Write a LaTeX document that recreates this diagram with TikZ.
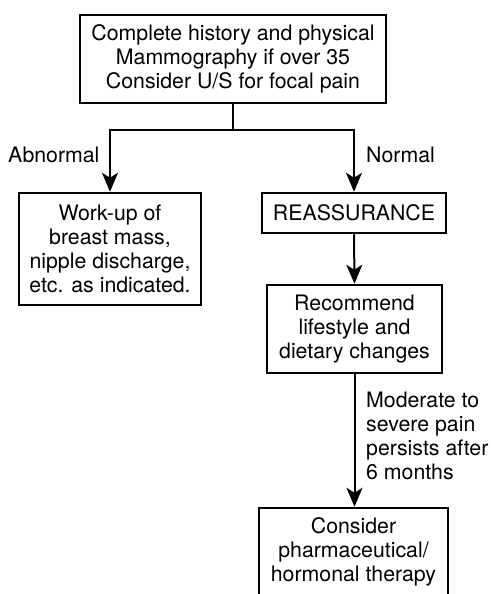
\documentclass[tikz,border=0pt]{standalone}
\usepackage{fontspec}
\setmainfont{TeX Gyre Heros}
\usetikzlibrary{arrows.meta}
\begin{document}
\begin{tikzpicture}[x=1pt,y=-1pt,
  box/.style={draw, line width=2.5pt, align=center, inner sep=0pt, font=\fontsize{21.3}{24}\selectfont},
  lbl/.style={align=left, inner sep=0pt, font=\fontsize{21.3}{24}\selectfont},
  conn/.style={line width=2pt, -{Stealth[length=19pt,width=16pt,inset=5pt]}}]
\useasboundingbox (0,0) rectangle (491,594);
\node[box, minimum width=306pt, minimum height=88pt] (top) at (233,59) {Complete history and physical\\Mammography if over 35\\Consider U/S for focal pain};
\node[box, minimum width=182pt, minimum height=112pt] (work) at (110,249) {Work-up of\\breast mass,\\nipple discharge,\\etc. as indicated.};
\node[box, minimum width=184pt, minimum height=40pt] (reas) at (354,213) {REASSURANCE};
\node[box, minimum width=175pt, minimum height=88pt] (rec) at (354.5,329) {Recommend\\lifestyle and\\dietary changes};
\node[box, minimum width=189pt, minimum height=88pt] (pharm) at (353.5,552) {Consider\\pharmaceutical/\\hormonal therapy};
\node[lbl, anchor=base west] (abn) at (8,162) {Abnormal};
\node[lbl, anchor=base west] (norm) at (366,162) {Normal};
\node[lbl, anchor=west] (mod) at (366,436) {Moderate to\\severe pain\\persists after\\6 months};
\draw[conn] (top.south) -- ++(0,26) -| (work.north);
\draw[conn] (top.south) -- ++(0,26) -| (reas.north);
\draw[conn] (reas.south) -- (rec.north);
\draw[conn] (rec.south) -- (rec.south |- pharm.north);
\end{tikzpicture}
\end{document}
